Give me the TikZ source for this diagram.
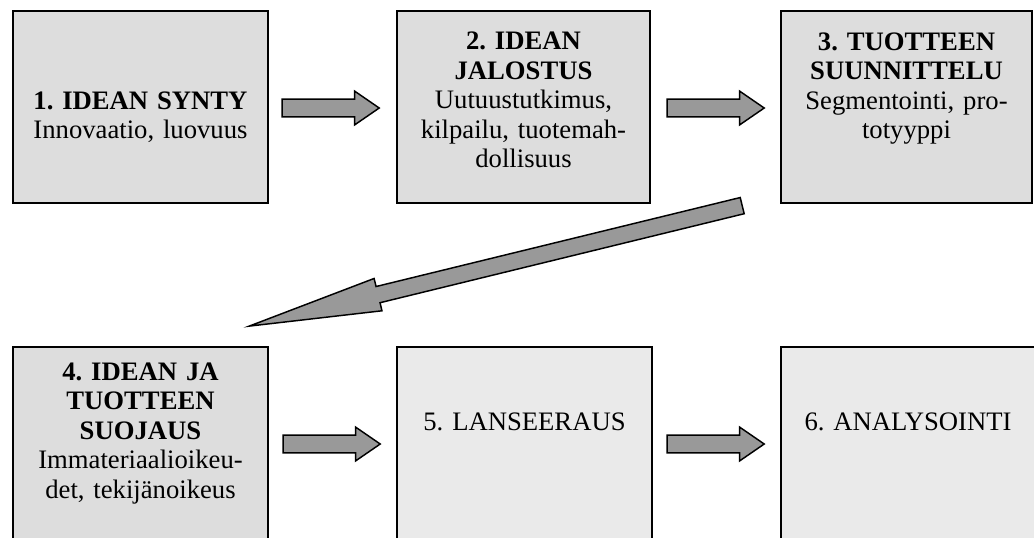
\documentclass[tikz,border=0pt]{standalone}
\usepackage{fontspec}
\setmainfont{Liberation Serif}
\usetikzlibrary{shapes.arrows,calc}
\def\PX{0.75pt}
\definecolor{boxdark}{HTML}{DDDDDD}
\definecolor{boxlight}{HTML}{EAEAEA}
\definecolor{arrowgray}{HTML}{999999}
\tikzset{
  box/.style={rectangle, draw=black, line width=1.5pt, inner sep=0pt},
  darkbox/.style={box, fill=boxdark},
  lightbox/.style={box, fill=boxlight},
  boxtext/.style={anchor=base, align=center, text width=250*\PX, inner sep=0pt,
    font=\fontsize{20}{22.2}\selectfont\frenchspacing},
  blockarr/.style={single arrow, draw=black, line width=1.1pt, fill=arrowgray,
    inner xsep=0pt, inner ysep=8.2*\PX, single arrow head extend=8*\PX,
    single arrow tip angle=69, minimum height=97*\PX, anchor=tip},
  bigarr/.style={single arrow, draw=black, line width=1.1pt, fill=arrowgray,
    inner xsep=0pt, inner ysep=7.6*\PX, single arrow head extend=8.3*\PX,
    single arrow tip angle=14.3, anchor=tip}
}
\begin{document}
\begin{tikzpicture}[x=0.75pt,y=-0.75pt]
\useasboundingbox (0,0) rectangle (1034,537);
\clip (0,0) rectangle (1034,537);
\fill[white] (0,0) rectangle (1034,537);
% top row
\node[darkbox, minimum width=255*\PX, minimum height=192*\PX] (b1) at (140.5,107) {};
\node[darkbox, minimum width=253*\PX, minimum height=192*\PX] (b2) at (523.5,107) {};
\node[darkbox, minimum width=251*\PX, minimum height=192*\PX] (b3) at (906.5,107) {};
% bottom row
\node[darkbox, minimum width=255*\PX, minimum height=194*\PX] (b4) at (140.5,444) {};
\node[lightbox, minimum width=255*\PX, minimum height=194*\PX] (b5) at (524.5,444) {};
\node[lightbox, minimum width=256*\PX, minimum height=194*\PX] (b6) at (909,444) {};
% texts
\node[boxtext] (t1) at (140.5,109) {\textbf{1. IDEAN SYNTY}\\Innovaatio, luovuus};
\node[boxtext] (t2) at (523.5,49.5) {\textbf{2. IDEAN}\\\textbf{JALOSTUS}\\Uutuustutkimus,\\kilpailu, tuotemah-\\dollisuus};
\node[boxtext] (t3) at (906.5,50) {\textbf{3. TUOTTEEN}\\\textbf{SUUNNITTELU}\\Segmentointi, pro-\\totyyppi};
\node[boxtext] (t4) at (140.5,380) {\textbf{4. IDEAN JA}\\\textbf{TUOTTEEN}\\\textbf{SUOJAUS}\\Immateriaalioikeu-\\det, tekijänoikeus};
\node[boxtext] (t5) at (524.5,430) {5. LANSEERAUS};
\node[boxtext] (t6) at (908,430) {6. ANALYSOINTI};
% horizontal block arrows (positioned by their tips)
\node[blockarr] (a12) at ($(b2.west)+(-15.5,1)$) {};
\node[blockarr] (a23) at ($(b3.west)+(-14.5,1)$) {};
\node[blockarr] (a45) at ($(b5.west)+(-14.5,0)$) {};
\node[blockarr] (a56) at ($(b6.west)+(-14.5,0)$) {};
% diagonal block arrow from 3 to 4
\coordinate (dtail) at ($(b3.south west)+(-43.5,3)$);
\coordinate (dtip) at ($(b4.north east)+(-25.5,-18.5)$);
\path let \p1=($(dtip)-(dtail)$), \n1={atan2(\y1,\x1)}, \n2={veclen(\x1,\y1)} in
  node[bigarr, rotate=\n1, minimum height=\n2] (a34) at (dtip) {};
\end{tikzpicture}
\end{document}
